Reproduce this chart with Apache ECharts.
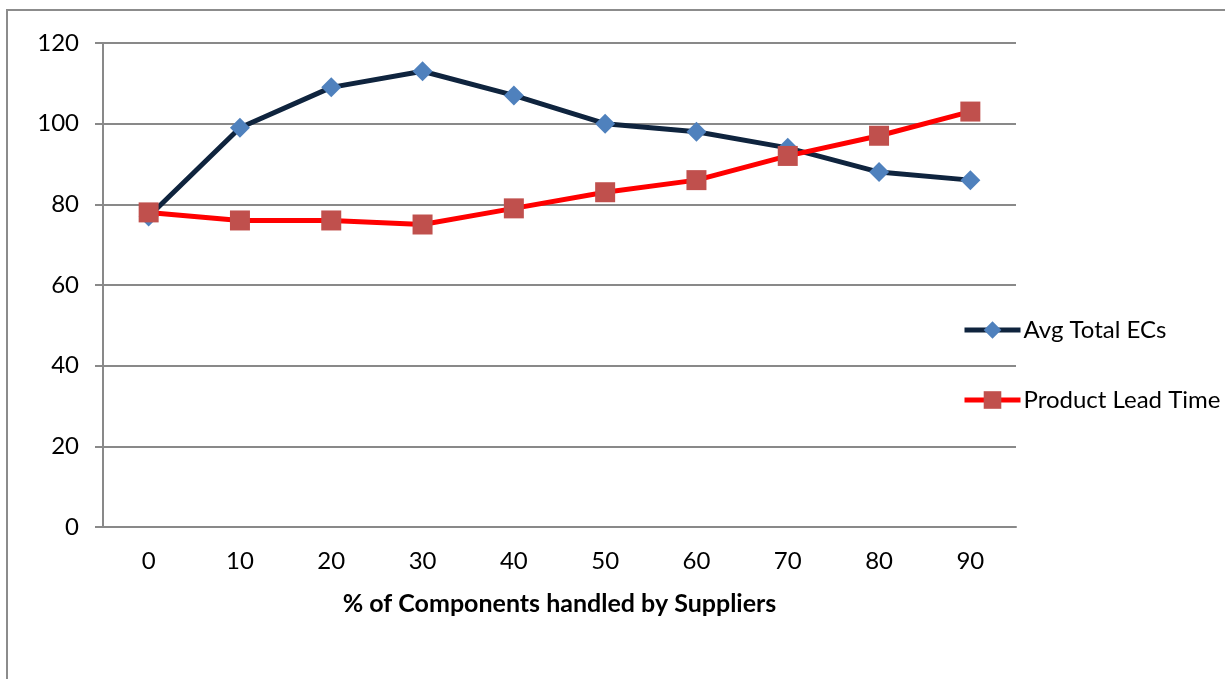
<!DOCTYPE html>
<html>
<head>
<meta charset="utf-8">
<script src="https://cdn.jsdelivr.net/npm/echarts@6/dist/echarts.min.js"></script>
<style>
html,body{margin:0;padding:0;background:#fff;}
#chart{width:1225px;height:679px;}
</style>
</head>
<body>
<div id="chart"></div>
<script>
const categories = ['0','10','20','30','40','50','60','70','80','90'];
const avgTotalECs = [77, 99, 109, 113, 107, 100, 98, 94, 88, 86];
const productLeadTime = [78, 76, 76, 75, 79, 83, 86, 92, 97, 103];
const xAxisTitle = '% of Components handled by Suppliers';
const seriesNames = ['Avg Total ECs', 'Product Lead Time'];

const FONT = 'Lato';
const chart = echarts.init(document.getElementById('chart'), null, {renderer: 'canvas'});
chart.setOption({
  animation: false,
  backgroundColor: '#fff',
  textStyle: {fontFamily: FONT},
  graphic: [{
    type: 'rect',
    shape: {x: 7, y: 10, width: 1400, height: 900},
    style: {fill: 'none', stroke: '#8c8c8c', lineWidth: 2},
    silent: true
  }],
  grid: {left: 103, right: 209, top: 43, bottom: 152, containLabel: false},
  legend: {
    orient: 'vertical',
    left: 962,
    top: 318,
    padding: 0,
    itemWidth: 56,
    itemHeight: 22,
    itemGap: 46,
    lineStyle: {width: 5},
    textStyle: {fontFamily: FONT, fontSize: 24, color: '#000', padding: [0,0,0,-2]},
    data: seriesNames
  },
  xAxis: {
    type: 'category',
    data: categories,
    boundaryGap: true,
    axisLine: {lineStyle: {color: '#898989', width: 2}},
    axisTick: {show: false},
    axisLabel: {fontFamily: FONT, fontSize: 24, color: '#000', margin: 22},
    name: xAxisTitle,
    nameLocation: 'middle',
    nameGap: 64,
    nameTextStyle: {fontFamily: FONT, fontSize: 25, fontWeight: 'bold', color: '#000'}
  },
  yAxis: {
    type: 'value',
    min: 0, max: 120, interval: 20,
    axisLine: {show: true, lineStyle: {color: '#898989', width: 2}},
    axisTick: {show: true, length: 8, lineStyle: {color: '#898989', width: 2}},
    axisLabel: {fontFamily: FONT, fontSize: 24, color: '#000', margin: 24},
    splitLine: {lineStyle: {color: '#898989', width: 2}}
  },
  series: [{
    name: seriesNames[0],
    type: 'line',
    data: avgTotalECs,
    symbol: 'diamond',
    symbolSize: 20,
    lineStyle: {color: '#0F243E', width: 5},
    itemStyle: {color: '#4F81BD'},
    z: 2
  }, {
    name: seriesNames[1],
    type: 'line',
    data: productLeadTime,
    symbol: 'rect',
    symbolSize: 20,
    lineStyle: {color: '#FF0000', width: 5},
    itemStyle: {color: '#C0504D'},
    z: 3
  }]
});
</script>
</body>
</html>
